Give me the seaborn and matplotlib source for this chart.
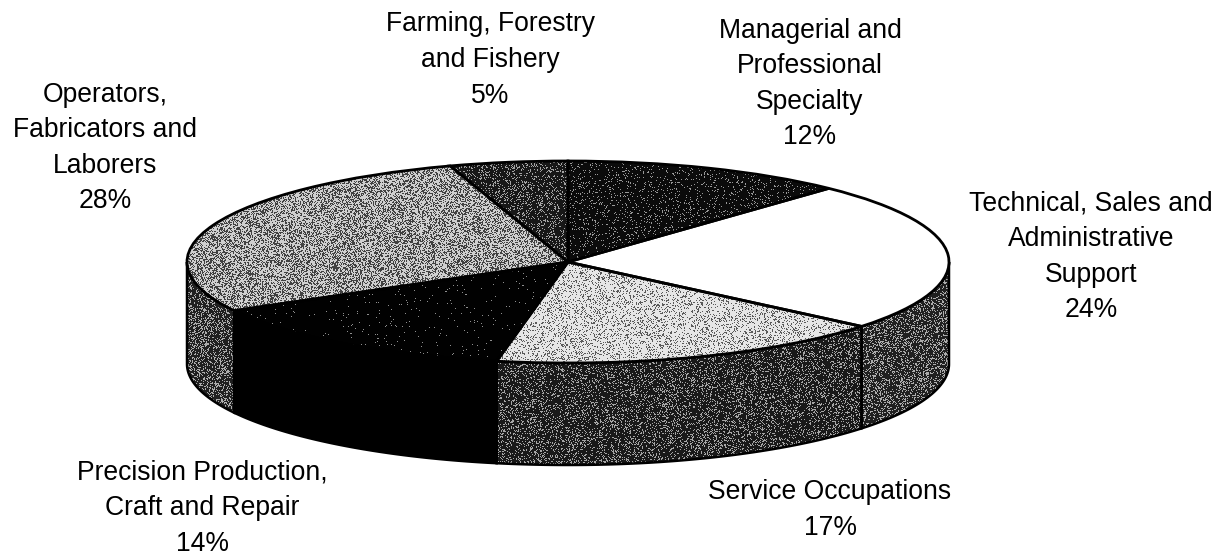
import numpy as np
import matplotlib
matplotlib.use("Agg")
import matplotlib.pyplot as plt
import seaborn as sns

# occupation groups, clockwise from the top of the pie
categories = ['Managerial and\nProfessional\nSpecialty',
              'Technical, Sales and\nAdministrative\nSupport',
              'Service Occupations',
              'Precision Production,\nCraft and Repair',
              'Operators,\nFabricators and\nLaborers',
              'Farming, Forestry\nand Fishery']
shares = [12, 24, 17, 14, 28, 5]

# grey level of the top face and of the side wall for each slice
top_greys = [0.10, 1.0, 0.78, 0.015, 0.58, 0.20]
side_greys = [0.3, 0.28, 0.22, 0.0, 0.28, 0.3]

# label centres in pixels
label_xy = [(810, 84), (1091, 257), (830, 510), (202, 508), (105, 148), (490, 60)]

W, H = 1228, 557
CX, CY, RX, RY, DEPTH = 568, 262, 381, 101, 102

sns.set_theme(style='white')
plt.rcParams['font.family'] = ['Liberation Sans', 'DejaVu Sans']

fig = plt.figure(figsize=(W / 100, H / 100), dpi=100)
ax = fig.add_axes([0, 0, 1, 1])

wedges, _ = ax.pie(shares, startangle=90, counterclock=False, radius=1, center=(0, 0),
                   wedgeprops=dict(edgecolor='black', linewidth=2.0, facecolor='none', zorder=6))

xlim = (-CX / RX, (W - CX) / RX)
ylim = ((CY - H) / RY, CY / RY)


def px(x, y):
    return (x - CX) / RX, (CY - y) / RY


# grainy halftone, same look as the scanned dither in the figure
yy, xx = np.mgrid[0:H, 0:W]
grain = np.abs(np.modf(np.sin(xx * 12.9898 + yy * 78.233) * 43758.5453)[0])


def halftone(grey, clip, z):
    # soften the dots a bit, the scan is not pure black and white
    img = 0.55 * (grain < grey).astype(float) + 0.45 * grey
    im = ax.imshow(img, cmap='gray', vmin=0, vmax=1, extent=(*xlim, *ylim), aspect='auto',
                   interpolation='nearest', zorder=z)
    im.set_clip_path(clip)


# side walls: only the part of each slice on the front half shows
edges = np.concatenate([[0], np.cumsum(shares)]) / sum(shares) * 360
d = DEPTH / RY
for i in range(len(shares)):
    a0, a1 = max(edges[i], 90), min(edges[i + 1], 270)
    if a1 <= a0:
        continue
    t = np.radians(np.linspace(a0, a1, 120))
    xs = np.concatenate([np.sin(t), np.sin(t)[::-1]])
    ys = np.concatenate([np.cos(t), np.cos(t)[::-1] - d])
    wall = ax.fill(xs, ys, facecolor='none', edgecolor='black', linewidth=1.8, zorder=3)[0]
    halftone(side_greys[i], wall, 2)

# top faces
for w, g in zip(wedges, top_greys):
    halftone(g, w, 4)

for label, share, (x, y) in zip(categories, shares, label_xy):
    tx, ty = px(x, y)
    ax.text(tx, ty, f'{label}\n{share}%', ha='center', va='center', fontsize=19.1,
            color='black', linespacing=1.48, zorder=8)

ax.set_aspect('auto')
ax.set_xlim(*xlim)
ax.set_ylim(*ylim)
ax.axis('off')

fig.savefig('out.png', dpi=100, facecolor='white')
